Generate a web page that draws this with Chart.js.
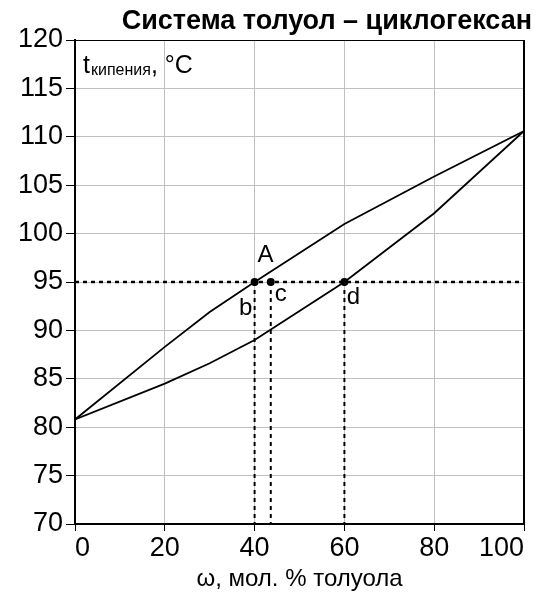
<!DOCTYPE html>
<html>
<head>
<meta charset="utf-8">
<script src="https://cdn.jsdelivr.net/npm/chart.js@4/dist/chart.umd.min.js"></script>
<style>
html,body{margin:0;padding:0;background:#fff;}
canvas{display:block;}
</style>
</head>
<body>
<canvas id="chart" width="539" height="595"></canvas>
<script>
// ---- data ----
const composition = [0, 20, 30, 40, 60, 80, 100];          // мол. % толуола
const vaporT      = [80.8, 88.3, 91.9, 95.0, 101.0, 105.9, 110.6]; // upper curve
const liquidT     = [80.8, 84.5, 86.6, 89.0, 95.0, 102.1, 110.6];  // lower curve
const isothermT   = 95;
const markerX     = [40, 43.6, 60];
const markerNames = ['b', 'c', 'd'];
const pointAName  = 'A';
const yMin = 70, yMax = 120, yStep = 5;
const xMin = 0, xMax = 100, xStep = 20;
const titleText  = 'Система толуол – циклогексан';
const xTitleText = 'ω, мол. % толуола';
const yLabelMain = 't';
const yLabelSub  = 'кипения';
const yLabelUnit = ', °C';

const FONT = "'Liberation Sans', Arial, sans-serif";

const toPts = (xs, ys) => xs.map((x, i) => ({x: x, y: ys[i]}));

const datasets = [
  {data: toPts(composition, vaporT), borderColor: '#000', borderWidth: 1.8, pointRadius: 0, tension: 0, order: 2},
  {data: toPts(composition, liquidT), borderColor: '#000', borderWidth: 1.8, pointRadius: 0, tension: 0, order: 2},
  {data: [{x: xMin, y: isothermT}, {x: xMax, y: isothermT}], borderColor: '#000', borderWidth: 2.5, borderDash: [4, 4], pointRadius: 0, order: 3}
];
markerX.forEach(x => {
  datasets.push({data: [{x: x, y: isothermT}, {x: x, y: yMin}], borderColor: '#000', borderWidth: 2, borderDash: [4, 4], pointRadius: 0, order: 3});
});
datasets.push({
  data: markerX.map(x => ({x: x, y: isothermT})),
  showLine: false, pointRadius: 4, pointBackgroundColor: '#000', pointBorderColor: '#000', pointBorderWidth: 0, order: 1
});

const annotations = {
  id: 'annotations',
  afterDatasetsDraw(chart) {
    const {ctx, chartArea, scales} = chart;
    const xs = scales.x, ys = scales.y;
    ctx.save();
    // frame: top and right
    ctx.strokeStyle = '#000';
    ctx.lineWidth = 1;
    ctx.beginPath();
    ctx.moveTo(chartArea.left, chartArea.top + 0.5);
    ctx.lineTo(chartArea.right, chartArea.top + 0.5);
    ctx.stroke();
    ctx.lineWidth = 2;
    ctx.beginPath();
    ctx.moveTo(chartArea.right, chartArea.top);
    ctx.lineTo(chartArea.right, chartArea.bottom);
    ctx.stroke();

    // point letters
    ctx.fillStyle = '#000';
    ctx.font = '24px ' + FONT;
    ctx.textAlign = 'center';
    ctx.textBaseline = 'alphabetic';
    const py = ys.getPixelForValue(isothermT);
    const offs = [[-9, 33], [10, 19], [9, 22]];
    markerX.forEach((x, i) => {
      const px = xs.getPixelForValue(x);
      ctx.fillText(markerNames[i], px + offs[i][0], py + offs[i][1]);
    });
    const ax = xs.getPixelForValue(markerX[0]);
    ctx.fillText(pointAName, ax + 11, py - 20);

    // y-axis label inside plot
    ctx.textAlign = 'left';
    let tx = chartArea.left + 8;
    const ty = chartArea.top + 33;
    ctx.font = '25px ' + FONT;
    ctx.fillText(yLabelMain, tx, ty);
    tx += ctx.measureText(yLabelMain).width + 1;
    ctx.font = '16px ' + FONT;
    ctx.fillText(yLabelSub, tx, ty + 2);
    tx += ctx.measureText(yLabelSub).width;
    ctx.font = '25px ' + FONT;
    ctx.fillText(yLabelUnit, tx, ty);
    ctx.restore();
  }
};

new Chart(document.getElementById('chart'), {
  type: 'line',
  data: {datasets: datasets},
  options: {
    responsive: false,
    animation: false,
    events: [],
    layout: {padding: {left: 0, right: 7, top: 0, bottom: 0}},
    plugins: {
      legend: {display: false},
      tooltip: {enabled: false},
      title: {
        display: true, text: titleText, align: 'end', color: '#000',
        font: {family: FONT, size: 27, weight: 'bold', lineHeight: 1.2},
        padding: {top: 5, bottom: 2.6}
      }
    },
    scales: {
      x: {
        type: 'linear', min: xMin, max: xMax,
        ticks: {stepSize: xStep, color: '#000', font: {family: FONT, size: 27}, padding: 1, align: 'inner', maxRotation: 0},
        grid: {color: '#c0c0c0', lineWidth: 1, tickColor: '#000', tickLength: 7, tickWidth: 1},
        border: {color: '#000', width: 2},
        title: {display: true, text: xTitleText, color: '#000', font: {family: FONT, size: 24}, padding: {top: 0, bottom: 1}},
        afterFit(scale) { scale.height = 71; scale.paddingRight = 15; scale.paddingLeft = 0; }
      },
      y: {
        type: 'linear', min: yMin, max: yMax,
        ticks: {stepSize: yStep, color: '#000', font: {family: FONT, size: 27}, padding: 3},
        grid: {color: '#c0c0c0', lineWidth: 1, tickColor: '#000', tickLength: 9, tickWidth: 1},
        border: {color: '#000', width: 2},
        afterFit(scale) { scale.width = 75; }
      }
    }
  },
  plugins: [annotations]
});
</script>
</body>
</html>
